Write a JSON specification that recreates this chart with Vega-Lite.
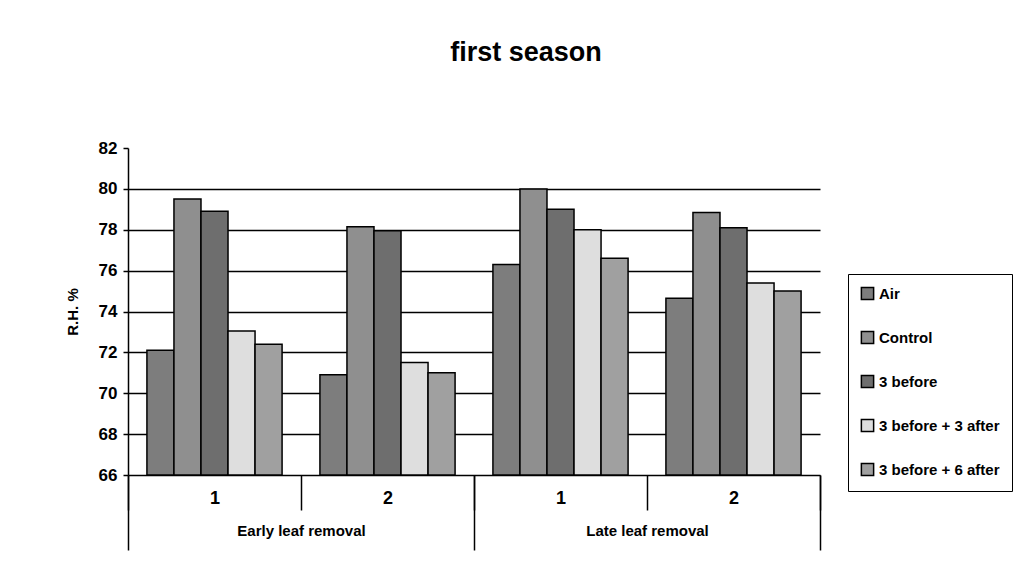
{
  "$schema": "https://vega.github.io/schema/vega-lite/v6.json",
  "width": 692,
  "height": 327,
  "autosize": {"type": "none"},
  "padding": {"left": 128, "top": 148, "right": 216, "bottom": 102},
  "background": "white",
  "title": {
    "text": "first season",
    "font": "Liberation Sans",
    "fontSize": 27,
    "fontWeight": "bold",
    "color": "black",
    "anchor": "middle",
    "frame": "group",
    "dx": 52,
    "offset": 72
  },
  "config": {
    "view": {"stroke": null},
    "font": "Liberation Sans"
  },
  "data": {
    "values": [
      {"group": "E1", "removal": "Early leaf removal", "series": "Air", "value": 72.1},
      {"group": "E1", "removal": "Early leaf removal", "series": "Control", "value": 79.5},
      {"group": "E1", "removal": "Early leaf removal", "series": "3 before", "value": 78.9},
      {"group": "E1", "removal": "Early leaf removal", "series": "3 before + 3 after", "value": 73.05},
      {"group": "E1", "removal": "Early leaf removal", "series": "3 before + 6 after", "value": 72.4},
      {"group": "E2", "removal": "Early leaf removal", "series": "Air", "value": 70.9},
      {"group": "E2", "removal": "Early leaf removal", "series": "Control", "value": 78.15},
      {"group": "E2", "removal": "Early leaf removal", "series": "3 before", "value": 77.95},
      {"group": "E2", "removal": "Early leaf removal", "series": "3 before + 3 after", "value": 71.5},
      {"group": "E2", "removal": "Early leaf removal", "series": "3 before + 6 after", "value": 71.0},
      {"group": "L1", "removal": "Late leaf removal", "series": "Air", "value": 76.3},
      {"group": "L1", "removal": "Late leaf removal", "series": "Control", "value": 80.0},
      {"group": "L1", "removal": "Late leaf removal", "series": "3 before", "value": 79.0},
      {"group": "L1", "removal": "Late leaf removal", "series": "3 before + 3 after", "value": 78.0},
      {"group": "L1", "removal": "Late leaf removal", "series": "3 before + 6 after", "value": 76.6},
      {"group": "L2", "removal": "Late leaf removal", "series": "Air", "value": 74.65},
      {"group": "L2", "removal": "Late leaf removal", "series": "Control", "value": 78.85},
      {"group": "L2", "removal": "Late leaf removal", "series": "3 before", "value": 78.1},
      {"group": "L2", "removal": "Late leaf removal", "series": "3 before + 3 after", "value": 75.4},
      {"group": "L2", "removal": "Late leaf removal", "series": "3 before + 6 after", "value": 75.0}
    ]
  },
  "layer": [
    {
      "mark": {"type": "bar", "stroke": "black", "strokeWidth": 1.5},
      "encoding": {
        "x": {
          "field": "group",
          "type": "nominal",
          "sort": ["E1", "E2", "L1", "L2"],
          "scale": {"paddingInner": 0, "paddingOuter": 0},
          "axis": {
            "orient": "bottom",
            "title": null,
            "labelExpr": "substring(datum.label, 1, 2)",
            "labelAngle": 0,
            "labelFont": "Liberation Sans",
            "labelFontSize": 18,
            "labelFontWeight": "bold",
            "labelColor": "black",
            "labelPadding": -21,
            "tickBand": "extent",
            "tickSize": 35,
            "tickWidth": 1.5,
            "tickColor": "black",
            "domainColor": "black",
            "domainWidth": 1.5,
            "grid": false
          }
        },
        "xOffset": {
          "field": "series",
          "type": "nominal",
          "sort": ["Air", "Control", "3 before", "3 before + 3 after", "3 before + 6 after"],
          "scale": {"paddingInner": 0, "paddingOuter": 0.7}
        },
        "y": {
          "field": "value",
          "type": "quantitative",
          "scale": {"domain": [66, 82], "zero": false, "nice": false},
          "axis": {
            "title": "R.H. %",
            "titleFont": "Liberation Sans",
            "titleFontSize": 15,
            "titleFontWeight": "bold",
            "titleColor": "black",
            "titlePadding": 18,
            "values": [66, 68, 70, 72, 74, 76, 78, 80, 82],
            "labelFont": "Liberation Sans",
            "labelFontSize": 17,
            "labelFontWeight": "bold",
            "labelColor": "black",
            "labelPadding": 6,
            "tickSize": 5,
            "tickWidth": 1.5,
            "tickColor": "black",
            "domainColor": "black",
            "domainWidth": 1.5,
            "grid": true,
            "gridColor": "black",
            "gridWidth": 1.5,
            "gridOpacity": {"expr": "datum.value == 82 || datum.value == 66 ? 0 : 1"}
          }
        },
        "y2": {"datum": 66},
        "fill": {
          "field": "series",
          "type": "nominal",
          "sort": ["Air", "Control", "3 before", "3 before + 3 after", "3 before + 6 after"],
          "scale": {"range": ["#7d7d7d", "#8f8f8f", "#6e6e6e", "#dedede", "#a0a0a0"]},
          "legend": {
            "title": null,
            "orient": "none",
            "legendX": 720,
            "legendY": 126,
            "padding": 12,
            "strokeColor": "black",
            "fillColor": "white",
            "symbolType": "square",
            "symbolSize": 150,
            "symbolStrokeColor": "black",
            "symbolStrokeWidth": 1.5,
            "symbolOpacity": 1,
            "labelFont": "Liberation Sans",
            "labelFontSize": 15,
            "labelFontWeight": "bold",
            "labelColor": "black",
            "labelOffset": 4,
            "labelLimit": 300,
            "rowPadding": 25
          }
        }
      }
    },
    {
      "mark": {"type": "point", "opacity": 0},
      "encoding": {
        "x": {
          "field": "removal",
          "type": "nominal",
          "sort": ["Early leaf removal", "Late leaf removal"],
          "scale": {"paddingInner": 0, "paddingOuter": 0},
          "axis": {
            "orient": "bottom",
            "title": null,
            "labelAngle": 0,
            "labelFont": "Liberation Sans",
            "labelFontSize": 15,
            "labelFontWeight": "bold",
            "labelColor": "black",
            "labelPadding": -27,
            "tickBand": "extent",
            "tickSize": 75,
            "tickWidth": 1.5,
            "tickColor": "black",
            "domain": false,
            "grid": false
          }
        },
        "y": {"field": "value", "type": "quantitative"}
      }
    }
  ],
  "resolve": {"scale": {"x": "independent"}, "axis": {"x": "independent"}}
}
